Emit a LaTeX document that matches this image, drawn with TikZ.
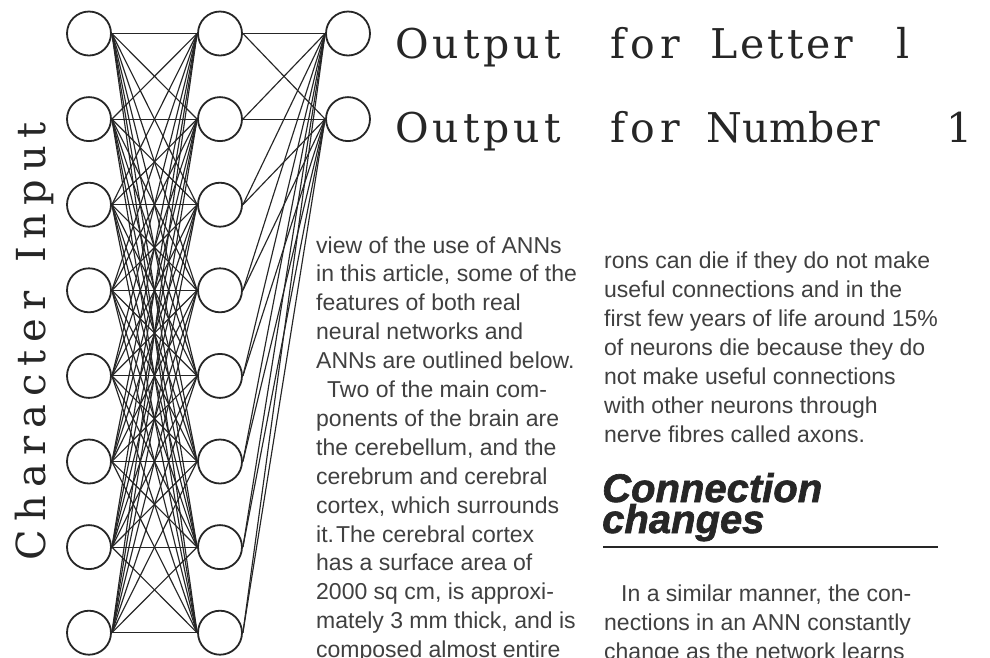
\documentclass[tikz,border=0pt]{standalone}
\usepackage{fontspec}
\setmainfont{Liberation Sans}
\newfontfamily\headfam{Liberation Sans}[BoldItalicFeatures={FakeBold=1.6}]
\newfontfamily\serfam{DejaVu Serif}
\definecolor{ink}{HTML}{262626}
\definecolor{bodyink}{HTML}{404040}
\newcommand\serout{\serfam\fontsize{41}{46}\selectfont}
\newcommand\serbig{\serfam\fontsize{40}{48}\selectfont}
\newcommand\bodyfnt{\fontsize{23}{29}\selectfont}
\newcommand\headfnt{\headfam\bfseries\itshape\fontsize{40}{30}\selectfont}
\makeatletter
\newcommand\trk[2]{\def\trk@k{#1}\trk@loop#2\trk@end}
\def\trk@loop#1{\ifx#1\trk@end\else#1\kern\trk@k\relax\expandafter\trk@loop\fi}
\makeatother
\begin{document}
\begin{tikzpicture}[x=1pt,y=-1pt,
  neuron/.style={circle,draw=ink,line width=1.8pt,minimum size=44pt,inner sep=0pt},
  wire/.style={draw=ink,line width=1.15pt},
  lbl/.style={text=ink,inner sep=0pt,anchor=base west,font=\serout},
  body/.style={text=bodyink,inner sep=0pt,anchor=base west,font=\bodyfnt},
  head/.style={text=ink,inner sep=0pt,anchor=base west,font=\headfnt}]
\useasboundingbox (0,0) rectangle (990,657);
\fill[white] (0,0) rectangle (990,657);
\clip (0,0) rectangle (990,657);
% neurons
\foreach \k in {0,...,7}{
  \node[neuron] (i\k) at (89,{33.5+85.6*\k}) {};
  \node[neuron] (h\k) at (220,{33.5+85.6*\k}) {};
}
\node[neuron] (o0) at (348,33.5) {};
\node[neuron] (o1) at (348,119.1) {};
% connections
\foreach \a in {0,...,7}{
  \foreach \b in {0,...,7}{
    \draw[wire] (i\a.east) -- (h\b.west);
  }
  \draw[wire] (h\a.east) -- (o0.west);
  \draw[wire] (h\a.east) -- (o1.west);
}
% output labels
\node[lbl] (r1a) at (395,58) {\trk{4pt}{Output}};
\node[lbl] (r1b) at (610,58) {\trk{5pt}{for}};
\node[lbl] (r1c) at (710,58) {\trk{3pt}{Letter}};
\node[lbl] (r1d) at (896,58) {l};
\node[lbl] (r2a) at (395,142) {\trk{4pt}{Output}};
\node[lbl] (r2b) at (610,142) {\trk{5pt}{for}};
\node[lbl] (r2c) at (706,142) {\trk{0.5pt}{Number}};
\node[lbl] (r2d) at (946,142) {1};
\node[lbl,font=\serbig,rotate=90,anchor=base] (cin) at (45,337) {\trk{8pt}{Character~Input}};
% left text column
\foreach \k/\t/\dx in {0/{view of the use of ANNs}/0,
  1/{in this article, some of the}/0,
  2/{features of both real}/0,
  3/{neural networks and}/0,
  4/{ANNs are outlined below.}/0,
  5/{Two of the main com-}/11,
  6/{ponents of the brain are}/0,
  7/{the cerebellum, and the}/0,
  8/{cerebrum and cerebral}/0,
  9/{cortex, which surrounds}/0,
  10/{it.\kern2pt The cerebral cortex}/0,
  11/{has a surface area of}/0,
  12/{2000 sq cm, is approxi-}/0,
  13/{mately 3 mm thick, and is}/0,
  14/{composed almost entire}/0}{
  \node[body] (L\k) at ({316+\dx},{253+28.9*\k}) {\t};
}
% right text column
\foreach \k/\t in {0/{rons can die if they do not make},
  1/{useful connections and in the},
  2/{first few years of life around 15\%},
  3/{of neurons die because they do},
  4/{not make useful connections},
  5/{with other neurons through},
  6/{nerve fibres called axons.}}{
  \node[body] (R\k) at (604,{268+29*\k}) {\t};
}
\node[head] (H1) at (602,502) {Connection};
\node[head] (H2) at (602,533) {changes};
\coordinate (ruleA) at (603,547);
\coordinate (ruleB) at (938,547);
\draw[ink,line width=2pt] (ruleA) -- (ruleB);
\node[body] (S0) at (621,601) {In a similar manner, the con-};
\node[body] (S1) at (604,630) {nections in an ANN constantly};
\node[body] (S2) at (604,659) {change as the network learns};
\end{tikzpicture}
\end{document}
